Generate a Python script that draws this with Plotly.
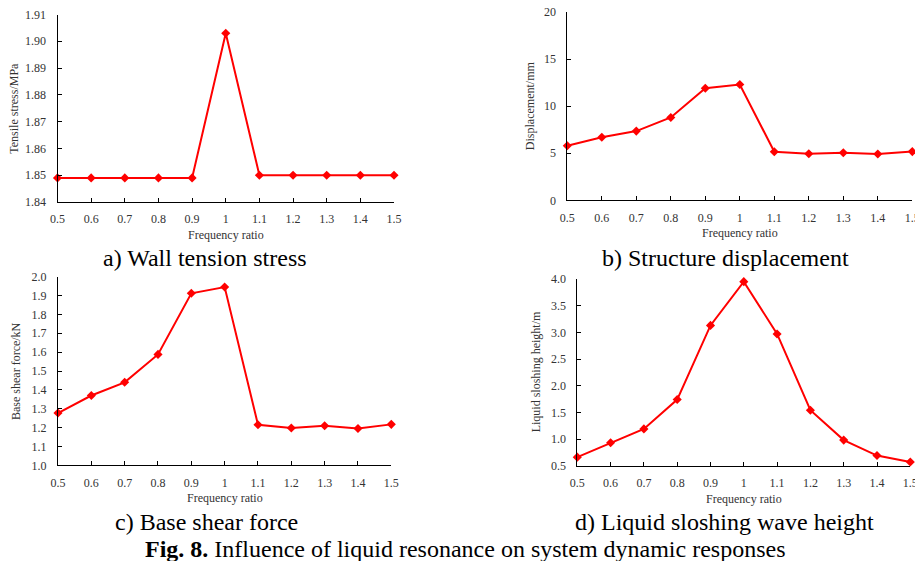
import plotly.graph_objects as go

freq_ratio = [0.5, 0.6, 0.7, 0.8, 0.9, 1.0, 1.1, 1.2, 1.3, 1.4, 1.5]
freq_labels = ["0.5", "0.6", "0.7", "0.8", "0.9", "1", "1.1", "1.2", "1.3", "1.4", "1.5"]

tensile_stress = [1.849, 1.849, 1.849, 1.849, 1.849, 1.903, 1.850, 1.850, 1.850, 1.850, 1.850]
displacement = [5.8, 6.7, 7.35, 8.8, 11.9, 12.3, 5.15, 4.95, 5.05, 4.92, 5.17]
base_shear = [1.277, 1.37, 1.44, 1.588, 1.912, 1.945, 1.215, 1.198, 1.21, 1.195, 1.217]
slosh_height = [0.66, 0.93, 1.19, 1.74, 3.13, 3.95, 2.97, 1.54, 0.98, 0.69, 0.57]

panels = [
    dict(y=tensile_stress, ytitle="Tensile stress/MPa", yrange=[1.84, 1.9100001], dtick=0.01, fmt=".2f",
         caption="a) Wall tension stress", xd=[57.5, 394], yd=[14.5, 202], cap=(205, 258), ytx=14.5),
    dict(y=displacement, ytitle="Displacement/mm", yrange=[0, 20], dtick=5, fmt="d",
         caption="b) Structure displacement", xd=[567.3, 912.3], yd=[12, 200.3], cap=(725, 258), ytx=530),
    dict(y=base_shear, ytitle="Base shear force/kN", yrange=[1.0, 2.0], dtick=0.1, fmt=".1f",
         caption="c) Base shear force", xd=[58, 391.3], yd=[276.7, 465.3], cap=(206, 522), ytx=16),
    dict(y=slosh_height, ytitle="Liquid sloshing height/m", yrange=[0.5, 4.0], dtick=0.5, fmt=".1f",
         caption="d) Liquid sloshing wave height", xd=[577.3, 910.3], yd=[279, 465.7], cap=(724, 522), ytx=536),
]

# page body has an 8px margin: figure is placed at (8, 8) in the window
OFF = 8
W, H = 923 - OFF, 561 - OFF
FONT = "Liberation Serif"


def px(v):
    return (v - OFF) / W


def py(v):
    return 1 - (v - OFF) / H


def note(text, x, y, size, color, angle=0):
    return dict(text=text, x=px(x), y=py(y), xref="paper", yref="paper", showarrow=False,
                xanchor="center", yanchor="middle", textangle=angle,
                font=dict(family=FONT, size=size, color=color))


fig = go.Figure()
annotations = []
layout = {}
for i, p in enumerate(panels):
    n = "" if i == 0 else str(i + 1)
    fig.add_trace(go.Scatter(
        x=freq_ratio, y=p["y"], mode="lines+markers",
        line=dict(color="#ff0000", width=2),
        marker=dict(symbol="diamond", size=7, color="#ff0000"),
        xaxis="x" + n, yaxis="y" + n, cliponaxis=False, showlegend=False))
    xd = [px(p["xd"][0]), px(p["xd"][1])]
    yd = [py(p["yd"][1]), py(p["yd"][0])]
    layout["xaxis" + n] = dict(
        domain=xd, anchor="y" + n, range=[0.5, 1.5], tickvals=freq_ratio, ticktext=freq_labels,
        automargin=False, ticklabelstandoff=6, ticklabeloverflow="allow",
        showline=True, linecolor="black", linewidth=1, ticks="inside", ticklen=4, tickcolor="black",
        showgrid=False, zeroline=False, tickfont=dict(family=FONT, size=12, color="#333333"))
    layout["yaxis" + n] = dict(
        domain=yd, anchor="x" + n, range=p["yrange"], dtick=p["dtick"], tick0=p["yrange"][0],
        tickformat=p["fmt"], automargin=False, ticklabelstandoff=8, ticklabeloverflow="allow",
        showline=True, linecolor="black", linewidth=1, ticks="inside", ticklen=4, tickcolor="black",
        showgrid=False, zeroline=False, tickfont=dict(family=FONT, size=12, color="#333333"))
    xc = (p["xd"][0] + p["xd"][1]) / 2
    annotations.append(note("Frequency ratio", xc, p["yd"][1] + 33, 12, "#333333"))
    annotations.append(note(p["ytitle"], p["ytx"], (p["yd"][0] + p["yd"][1]) / 2, 12, "#333333", -90))
    annotations.append(note(p["caption"], p["cap"][0], p["cap"][1], 24, "black"))

annotations.append(note("<b>Fig. 8.</b> Influence of liquid resonance on system dynamic responses",
                        466, 549, 24, "black"))

fig.update_layout(width=W, height=H, margin=dict(l=0, r=0, t=0, b=0, autoexpand=False),
                  paper_bgcolor="white", plot_bgcolor="white",
                  annotations=annotations, **layout)
fig.write_html("out.html")
